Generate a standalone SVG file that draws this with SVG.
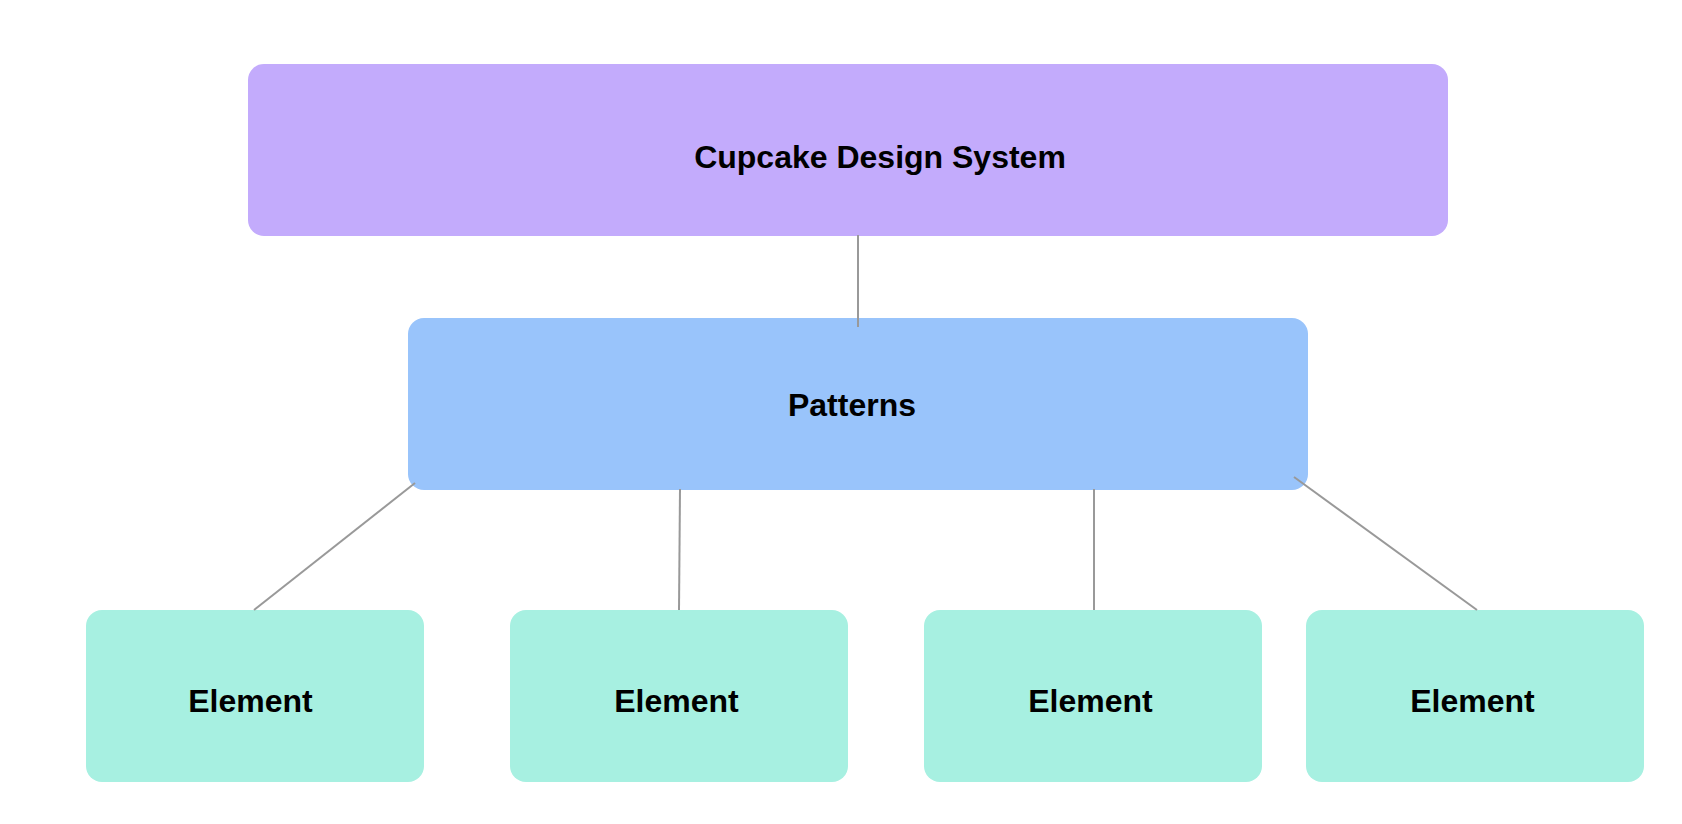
<svg xmlns="http://www.w3.org/2000/svg" width="1682" height="824" viewBox="0 0 1682 824">
<style>
.lbl{font-family:"Liberation Sans",Arial,sans-serif;font-weight:bold;font-size:32px;fill:#000;text-anchor:middle}
.con{stroke:#999999;stroke-width:2;fill:none}
</style>
<rect width="1682" height="824" fill="#ffffff"/>
<g id="node-root">
<rect x="248" y="64" width="1200" height="172" rx="16" fill="#C3ABFC"/>
<text class="lbl" x="880" y="168">Cupcake Design System</text>
</g>
<g id="node-patterns">
<rect x="408" y="318" width="900" height="172" rx="16" fill="#99C4FB"/>
<text class="lbl" x="852" y="416">Patterns</text>
</g>
<g id="node-element1">
<rect x="86" y="610" width="338" height="172" rx="16" fill="#A7F0E1"/>
<text class="lbl" x="250.5" y="712">Element</text>
</g>
<g id="node-element2">
<rect x="510" y="610" width="338" height="172" rx="16" fill="#A7F0E1"/>
<text class="lbl" x="676.5" y="712">Element</text>
</g>
<g id="node-element3">
<rect x="924" y="610" width="338" height="172" rx="16" fill="#A7F0E1"/>
<text class="lbl" x="1090.5" y="712">Element</text>
</g>
<g id="node-element4">
<rect x="1306" y="610" width="338" height="172" rx="16" fill="#A7F0E1"/>
<text class="lbl" x="1472.5" y="712">Element</text>
</g>
<g id="connectors">
<line class="con" x1="858" y1="235" x2="858" y2="327"/>
<line class="con" x1="415" y1="483" x2="254" y2="610"/>
<line class="con" x1="680" y1="489" x2="679" y2="610"/>
<line class="con" x1="1094" y1="489" x2="1094" y2="610"/>
<line class="con" x1="1294" y1="477" x2="1477" y2="610"/>
</g>
</svg>
